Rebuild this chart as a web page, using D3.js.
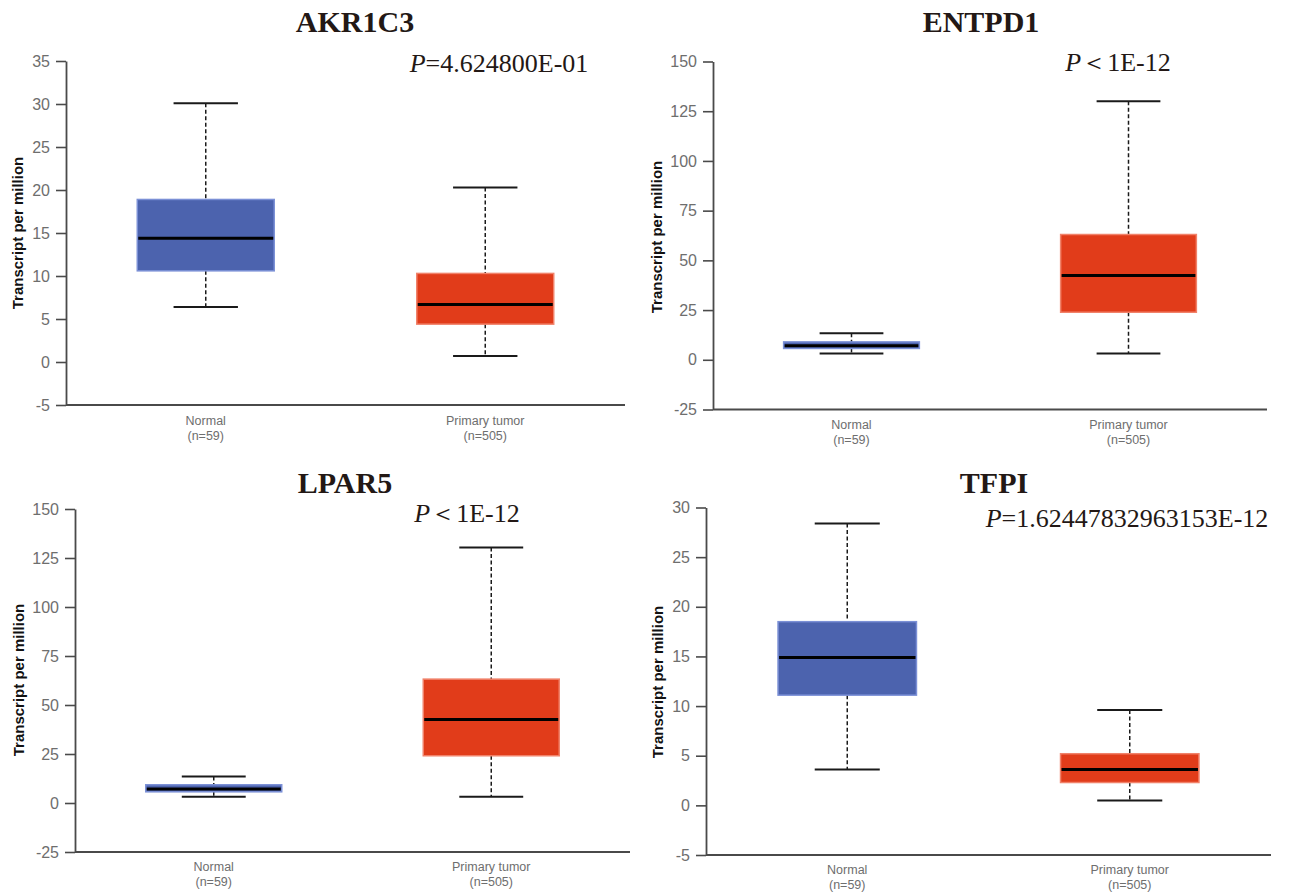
<!DOCTYPE html>
<html>
<head>
<meta charset="utf-8">
<script src="https://cdn.jsdelivr.net/npm/d3@7"></script>
<style>
  html, body { margin: 0; padding: 0; background: #fff; }
  svg { display: block; }
</style>
</head>
<body>
<svg id="chart" width="1290" height="892"></svg>
<script>
// ---------------- data ----------------
const genes = ["AKR1C3", "ENTPD1", "LPAR5", "TFPI"];
const categories = ["Normal", "Primary tumor"];
const sampleSizes = ["(n=59)", "(n=505)"];
const pSymbols = ["=", "\uFF1C", "\uFF1C", "="];
const pValues = ["4.624800E-01", "1E-12", "1E-12", "1.62447832963153E-12"];
// [min whisker, Q1, median, Q3, max whisker]
const normalStats = [
  [6.4, 10.6, 14.4, 18.9, 30.1],
  [3.2, 5.7, 7.0, 9.0, 13.3],
  [3.2, 5.7, 7.2, 9.3, 13.5],
  [3.6, 11.1, 14.9, 18.5, 28.4]
];
const tumorStats = [
  [0.7, 4.4, 6.7, 10.3, 20.3],
  [3.2, 23.9, 42.4, 63.0, 130.0],
  [3.2, 24.1, 42.6, 63.2, 130.3],
  [0.5, 2.3, 3.6, 5.2, 9.6]
];
const yTicks = [
  [-5, 0, 5, 10, 15, 20, 25, 30, 35],
  [-25, 0, 25, 50, 75, 100, 125, 150],
  [-25, 0, 25, 50, 75, 100, 125, 150],
  [-5, 0, 5, 10, 15, 20, 25, 30]
];
const yLabel = "Transcript per million";

// ---------------- layout (positions only) ----------------
const layout = [
  { x0: 66,  x1: 625,  yTop: 61,    yBot: 405,  titleX: 355, titleY: 32,  pX: 499,  pY: 72,  labX: 23,  labY: 233, catY: 425 },
  { x0: 713, x1: 1267, yTop: 61.5,  yBot: 409.5, titleX: 981, titleY: 32,  pX: 1118, pY: 71,  labX: 662, labY: 237, catY: 429 },
  { x0: 75,  x1: 630,  yTop: 509,   yBot: 852,  titleX: 345, titleY: 493, pX: 467,  pY: 522, labX: 24,  labY: 680, catY: 871 },
  { x0: 706, x1: 1271, yTop: 507.5, yBot: 855,  titleX: 994, titleY: 493, pX: 1127, pY: 527, labX: 663, labY: 682, catY: 874 }
];
const fills = ["#4c63ae", "#e13c1a"];
const strokes = ["#7b90d6", "#f1826a"];

const svg = d3.select("#chart");

genes.forEach((gene, i) => {
  const L = layout[i];
  const ticks = yTicks[i];
  const g = svg.append("g");

  const y = d3.scaleLinear()
    .domain([d3.min(ticks), d3.max(ticks)])
    .range([L.yBot, L.yTop]);
  const x = d3.scaleBand()
    .domain(categories)
    .range([L.x0, L.x1])
    .paddingInner(0.51)
    .paddingOuter(0.255);

  // y axis
  const yAxis = d3.axisLeft(y).tickValues(ticks).tickSize(10).tickSizeOuter(0).tickPadding(6)
    .tickFormat(d => String(d));
  const ya = g.append("g").attr("transform", `translate(${L.x0},0)`).call(yAxis);
  ya.select(".domain").attr("stroke", "#4a4a4a").attr("stroke-width", 1.8);
  ya.selectAll(".tick line").attr("stroke", "#4a4a4a").attr("stroke-width", 1.6);
  ya.selectAll(".tick text")
    .attr("fill", "#6e6e6e")
    .style("font-family", "'Liberation Sans', Arial, sans-serif")
    .style("font-size", "16px");

  // x axis baseline
  g.append("line")
    .attr("x1", L.x0).attr("x2", L.x1)
    .attr("y1", y(d3.min(ticks))).attr("y2", y(d3.min(ticks)))
    .attr("stroke", "#4a4a4a").attr("stroke-width", 1.8);

  // category labels
  categories.forEach((c, j) => {
    const cx = x(c) + x.bandwidth() / 2;
    const t = g.append("text")
      .attr("x", cx).attr("y", L.catY)
      .attr("text-anchor", "middle")
      .attr("fill", "#6e6e6e")
      .style("font-family", "'Liberation Sans', Arial, sans-serif")
      .style("font-size", "12.5px");
    t.append("tspan").attr("x", cx).text(c);
    t.append("tspan").attr("x", cx).attr("dy", 14.5).text(sampleSizes[j]);
  });

  // boxes
  const stats = [normalStats[i], tumorStats[i]];
  categories.forEach((c, j) => {
    const s = stats[j];
    const bx = x(c), bw = x.bandwidth(), cx = bx + bw / 2;
    const capW = bw * 0.47;
    // whiskers (dashed)
    g.append("line").attr("x1", cx).attr("x2", cx).attr("y1", y(s[4])).attr("y2", y(s[3]))
      .attr("stroke", "#1a1a1a").attr("stroke-width", 1.5).attr("stroke-dasharray", "4,2.5");
    g.append("line").attr("x1", cx).attr("x2", cx).attr("y1", y(s[1])).attr("y2", y(s[0]))
      .attr("stroke", "#1a1a1a").attr("stroke-width", 1.5).attr("stroke-dasharray", "4,2.5");
    // caps
    [s[0], s[4]].forEach(v => {
      g.append("line").attr("x1", cx - capW / 2).attr("x2", cx + capW / 2)
        .attr("y1", y(v)).attr("y2", y(v))
        .attr("stroke", "#1a1a1a").attr("stroke-width", 2);
    });
    // box
    g.append("rect")
      .attr("x", bx).attr("width", bw)
      .attr("y", y(s[3])).attr("height", Math.max(1, y(s[1]) - y(s[3])))
      .attr("fill", fills[j]).attr("stroke", strokes[j]).attr("stroke-width", 1.5);
    // median
    g.append("line").attr("x1", bx + 1).attr("x2", bx + bw - 1)
      .attr("y1", y(s[2])).attr("y2", y(s[2]))
      .attr("stroke", "#000").attr("stroke-width", 3);
  });

  // y label
  g.append("text")
    .attr("transform", `translate(${L.labX},${L.labY}) rotate(-90)`)
    .attr("text-anchor", "middle")
    .attr("fill", "#111")
    .style("font-family", "'Liberation Sans', Arial, sans-serif")
    .style("font-weight", "bold")
    .style("font-size", "15px")
    .text(yLabel);

  // title
  g.append("text")
    .attr("x", L.titleX).attr("y", L.titleY)
    .attr("text-anchor", "middle")
    .attr("fill", "#231815")
    .style("font-family", "'Liberation Serif', 'Times New Roman', serif")
    .style("font-weight", "bold")
    .style("font-size", "30px")
    .text(gene);

  // p value
  const pt = g.append("text")
    .attr("x", L.pX).attr("y", L.pY)
    .attr("text-anchor", "middle")
    .attr("fill", "#231815")
    .style("font-family", "'Liberation Serif', 'Times New Roman', serif")
    .style("font-size", "26px");
  pt.append("tspan").style("font-style", "italic").text("P");
  pt.append("tspan").text(pSymbols[i] + pValues[i]);
});
</script>
</body>
</html>
